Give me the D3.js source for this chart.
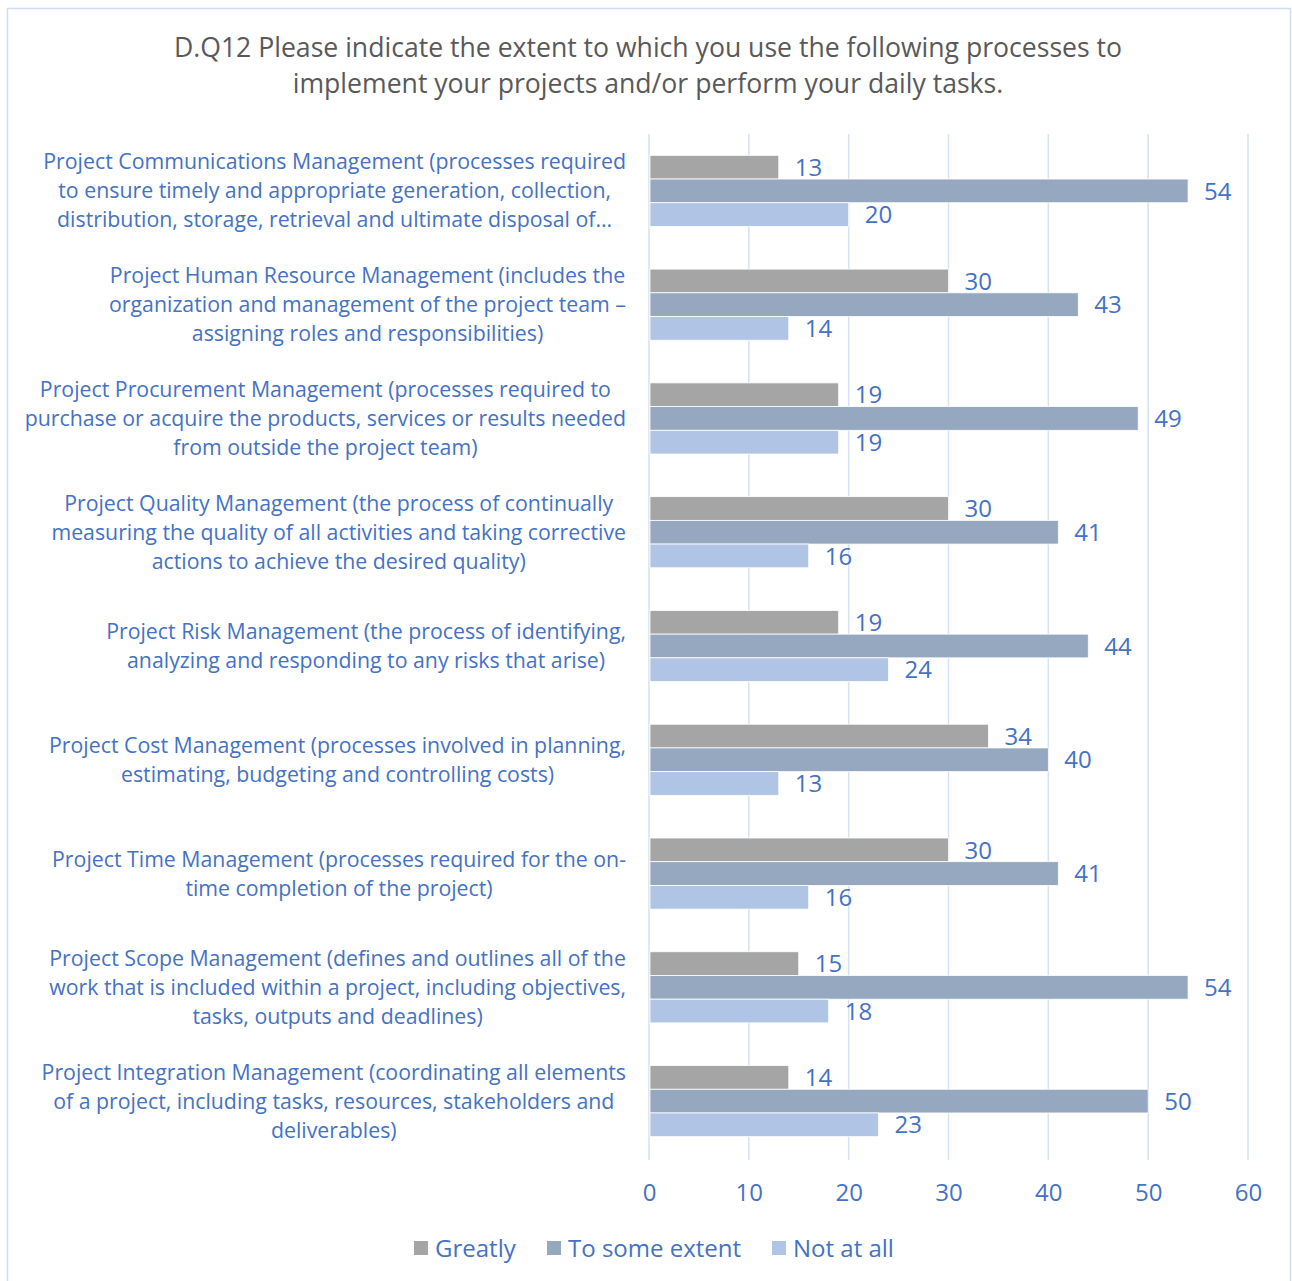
<!DOCTYPE html>
<html>
<head>
<meta charset="utf-8">
<script src="https://cdn.jsdelivr.net/npm/d3@7"></script>
<style>
  html, body { margin: 0; padding: 0; background: #fff; }
  svg { display: block; font-family: "Open Sans", "Noto Sans", sans-serif; }
</style>
</head>
<body>
<svg id="chart" width="1292" height="1281"></svg>
<script>
// ---- Data ----
const categories = [
  ["Project Communications Management (processes required", "to ensure timely and appropriate generation, collection,", "distribution, storage, retrieval and ultimate disposal of..."],
  ["Project Human Resource Management (includes the", "organization and management of the project team \u2013", "assigning roles and responsibilities)"],
  ["Project Procurement Management (processes required to", "purchase or acquire the products, services or results needed", "from outside the project team)"],
  ["Project Quality Management (the  process of continually", "measuring the quality of all activities and taking corrective", "actions to achieve the desired quality)"],
  ["Project Risk Management (the process of identifying,", "analyzing and responding to any risks that arise)"],
  ["Project Cost Management (processes involved in planning,", "estimating, budgeting and controlling costs)"],
  ["Project Time Management (processes required for the on-", "time completion of the project)"],
  ["Project Scope Management (defines and outlines all of the", "work that is included within a project, including objectives,", "tasks, outputs and deadlines)"],
  ["Project Integration Management (coordinating all elements", "of a project, including tasks, resources, stakeholders and", "deliverables)"]
];
const seriesNames = ["Greatly", "To some extent", "Not at all"];
const greatly      = [13, 30, 19, 30, 19, 34, 30, 15, 14];
const toSomeExtent = [54, 43, 49, 41, 44, 40, 41, 54, 50];
const notAtAll     = [20, 14, 19, 16, 24, 13, 16, 18, 23];
const xTicks = [0, 10, 20, 30, 40, 50, 60];
const titleLines = ["D.Q12 Please indicate the extent to which you use the following processes to", "implement your projects and/or perform your daily tasks."];

const seriesValues = [greatly, toSomeExtent, notAtAll];
const colors = ["#A5A5A5", "#95A8BF", "#B0C4E5"];
const textBlue = "#4472C4";

// ---- Layout ----
const svg = d3.select("#chart");

svg.append("rect").attr("x", 7.5).attr("y", 8.5).attr("width", 1283).attr("height", 1290)
  .attr("fill", "#fff").attr("stroke", "#D0DDEE").attr("stroke-width", 1.5);

const plot = { left: 649, right: 1248, top: 134, bottom: 1158 };

const x = d3.scaleLinear().domain([0, 60]).range([plot.left, plot.right]);
const y = d3.scaleBand().domain(d3.range(categories.length)).range([plot.top, plot.bottom]).paddingInner(0.375).paddingOuter(0.1875);
const sub = d3.scaleBand().domain(d3.range(seriesNames.length)).range([0, y.bandwidth()]);

// Title
svg.append("g").selectAll("text").data(titleLines).join("text")
  .attr("x", 648).attr("y", (d, i) => 57 + i * 36)
  .attr("text-anchor", "middle").attr("fill", "#595959")
  .style("font-size", "26.6px").text(d => d);

// Gridlines
svg.append("g").selectAll("line").data(xTicks).join("line")
  .attr("x1", d => x(d)).attr("x2", d => x(d))
  .attr("y1", plot.top).attr("y2", 1160)
  .attr("stroke", "#D6E1F1").attr("stroke-width", 1.5);

// Bars
const groups = svg.append("g").selectAll("g").data(categories.map((c, i) => i)).join("g")
  .attr("transform", i => `translate(0,${y(i)})`);

groups.selectAll("rect").data(i => seriesValues.map((s, k) => ({ k, v: s[i] }))).join("rect")
  .attr("x", x(0) + 1).attr("y", d => sub(d.k))
  .attr("width", d => x(d.v) - x(0) - 1).attr("height", sub.bandwidth())
  .attr("fill", d => colors[d.k]).attr("stroke", "#fff").attr("stroke-width", 0.8);

groups.selectAll("text").data(i => seriesValues.map((s, k) => ({ k, v: s[i] }))).join("text")
  .attr("x", d => x(d.v) + 16).attr("y", d => sub(d.k) + sub.bandwidth() / 2)
  .attr("dy", "0.36em").attr("fill", textBlue).style("font-size", "24px")
  .text(d => d.v);

// Category labels
const labelRight = 626, lineH = 29;
const labelG = svg.append("g").style("font-size", "21.3px").attr("fill", textBlue);
categories.forEach((lines, i) => {
  const g = labelG.append("g");
  const cy = y(i) + y.bandwidth() / 2;
  const texts = g.selectAll("text").data(lines).join("text")
    .attr("text-anchor", "middle")
    .attr("y", (d, j) => cy + (j - (lines.length - 1) / 2) * lineH)
    .attr("dy", "0.35em").text(d => d);
  let maxW = 0;
  texts.each(function () { maxW = Math.max(maxW, this.getComputedTextLength()); });
  texts.attr("x", labelRight - maxW / 2);
});

// X axis labels
const xAxis = d3.axisBottom(x).tickValues(xTicks).tickSize(0).tickPadding(0);
const ax = svg.append("g").attr("transform", `translate(0,1192)`).call(xAxis);
ax.select(".domain").remove();
ax.selectAll("text").attr("fill", textBlue).style("font-size", "24px")
  .style("font-family", "'Open Sans', sans-serif").attr("dy", "0.36em").attr("y", 0);

// Legend
const legendX = [414, 547, 772];
const leg = svg.append("g").selectAll("g").data(seriesNames).join("g")
  .attr("transform", (d, i) => `translate(${legendX[i]},1248)`);
leg.append("rect").attr("x", 0).attr("y", -7).attr("width", 14).attr("height", 14)
  .attr("fill", (d, i) => colors[i]);
leg.append("text").attr("x", 21).attr("dy", "0.36em").attr("fill", textBlue)
  .style("font-size", "24px").text(d => d);
</script>
</body>
</html>
